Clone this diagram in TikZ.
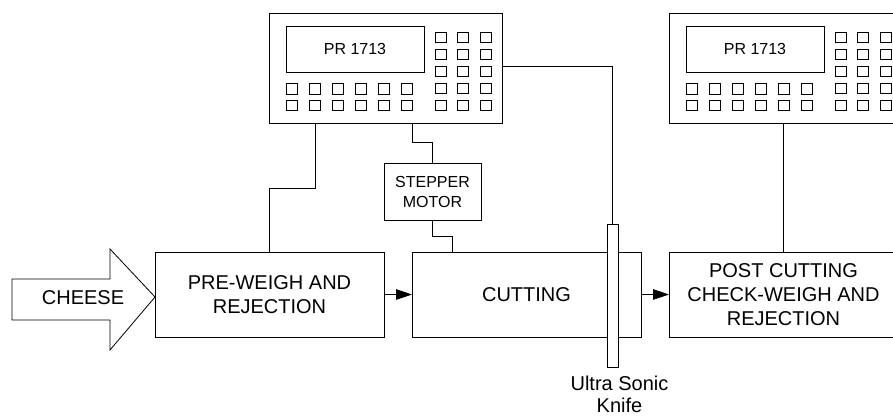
\documentclass[tikz,border=0pt]{standalone}
\usepackage{fontspec}
\setmainfont{Liberation Sans}
\usetikzlibrary{arrows.meta,positioning}

\begin{document}
\begin{tikzpicture}[
  x=1pt, y=-1pt,
  line width=0.8pt,
  font=\fontsize{20}{24}\selectfont,
  procbox/.style={draw,align=center,minimum width=229pt,minimum height=85pt,inner sep=0pt,outer sep=0pt},
  termbox/.style={draw,minimum width=233pt,minimum height=110pt,inner sep=0pt,outer sep=0pt},
  dispbox/.style={draw,minimum width=138pt,minimum height=46pt,inner sep=0pt,outer sep=0pt,font=\fontsize{16}{19}\selectfont},
  motorbox/.style={draw,align=center,minimum width=97pt,minimum height=57pt,inner sep=0pt,outer sep=0pt,font=\fontsize{16}{20}\selectfont},
  knifebar/.style={draw,fill=white,minimum width=11pt,minimum height=143pt,inner sep=0pt,outer sep=0pt},
  arr/.style={-{Triangle[length=16pt,width=10.5pt]}}
]
\useasboundingbox (0,0) rectangle (893,417);
\clip (0,0) rectangle (893,417);
% weighing terminals
\foreach \t/\x in {t1/385.5,t2/785.5}{
  \node[termbox] (\t) at (\x,68.3) {};
  \node[dispbox,below right=12.7pt and 17pt of \t.north west] (\t-disp) {PR 1713};
  \foreach \i in {0,...,5}
    \foreach \j in {0,1}
      \draw ([xshift={17+23*\i},yshift={-70.3-16.7*\j}]\t.north west) rectangle ++(11,10.5);
  \foreach \i in {0,1,2}
    \foreach \j in {0,...,4}
      \draw ([xshift={166+22.8*\i},yshift={-18.7-17.1*\j}]\t.north west) rectangle ++(11,10.5);
}
% input arrow
\draw (12,279) -- (110,279) -- (110,249) -- (155,297) -- (110,350) -- (110,320) -- (12,320) -- cycle;
\node (cheese) at (83,298) {CHEESE};
% process line
\node[procbox] (pre) at (269.5,294.5) {PRE-WEIGH AND\\REJECTION};
\node[procbox,right=28pt of pre] (cut) {CUTTING};
\node[procbox,right=28pt of cut] (post) {POST CUTTING\\CHECK-WEIGH AND\\REJECTION};
\node[motorbox] (motor) at (432.5,191.5) {STEPPER\\MOTOR};
\node[knifebar] (knife) at (612.5,295.5) {};
\node[align=center,inner sep=0pt,below=9pt of knife,xshift=7pt,font=\fontsize{20}{22}\selectfont] (knifelbl) {Ultra Sonic\\Knife};
% wiring
\draw ([xshift=46pt]t1.south west) -- ++(0,65) -| (pre.north);
\draw ([xshift=143pt]t1.south west) -- ++(0,19) -| (motor.north);
\draw (motor.south) -- ++(0,16) -| ([xshift=40pt]cut.north west);
\draw (knife.north) |- ([yshift=2pt]t1.east);
\draw (post.north) -- (post.north |- t2.south);
\draw[arr] (pre) -- (cut);
\draw[arr] (cut) -- (post);
\end{tikzpicture}
\end{document}
